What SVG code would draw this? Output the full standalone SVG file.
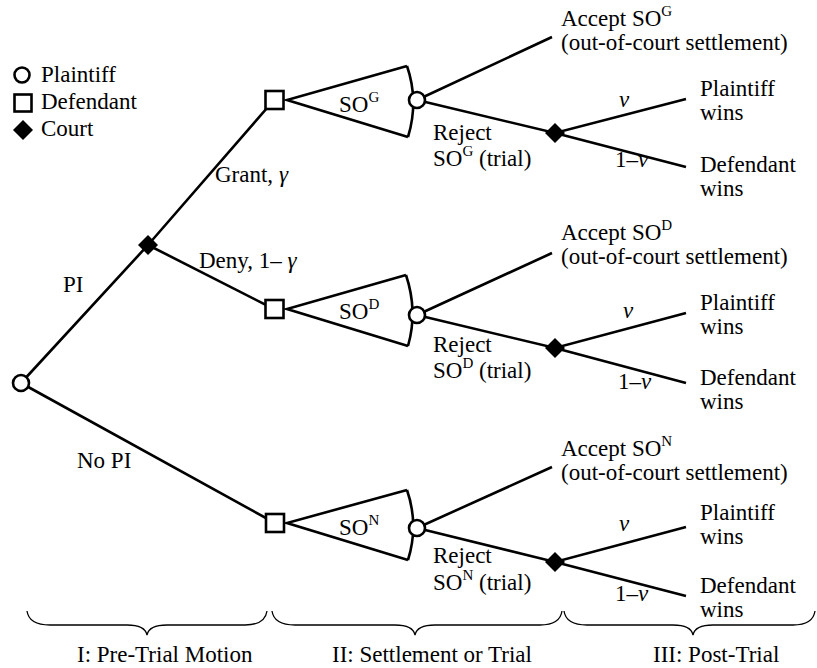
<svg xmlns="http://www.w3.org/2000/svg" width="817" height="668" viewBox="0 0 817 668">
<defs>
<path id="dia" d="M0,-10 L10,0 L0,10 L-10,0 Z" fill="#000"/>
</defs>
<rect width="817" height="668" fill="#fff"/>
<g id="connectors" stroke="#000" stroke-width="2.6" fill="none">
<path d="M21,383 L148,245 L274,100"/>
<path d="M148,245 L274,309"/>
<path d="M21,383 L275,523"/>
<path d="M417,100 L552,37 M417,100 L555,133 L686,99 M555,133 L686,167"/>
<path d="M417,315 L552,253 M417,315 L555,348 L686,313 M555,348 L686,383"/>
<path d="M417,528 L552,467 M417,528 L555,562 L686,527 M555,562 L686,596"/>
<path d="M407,66 L287,100 L408,137 M407,66 Q419,101 408,137"/>
<path d="M406,275 L287,309 L408,346 M406,275 Q418,311 408,346"/>
<path d="M407,490 L287,523 L408,560 M407,490 Q419,525 408,560"/>
</g>
<g id="nodes" fill="#fff" stroke="#000" stroke-width="2.6">
<g id="root"><circle cx="21" cy="383" r="8"/></g>
<g id="court-pi"><use href="#dia" x="148" y="245" stroke="none"/></g>
<g id="def-g"><rect x="265.5" y="91" width="18" height="18"/></g>
<g id="def-d"><rect x="265.5" y="300" width="18" height="18"/></g>
<g id="def-n"><rect x="266" y="514" width="18" height="18"/></g>
<g id="pl-g"><circle cx="417" cy="100" r="8"/></g>
<g id="pl-d"><circle cx="417" cy="315" r="8"/></g>
<g id="pl-n"><circle cx="417" cy="528" r="8"/></g>
<g id="court-g"><use href="#dia" x="555" y="133" stroke="none"/></g>
<g id="court-d"><use href="#dia" x="555" y="348" stroke="none"/></g>
<g id="court-n"><use href="#dia" x="555" y="562" stroke="none"/></g>
</g>
<g id="legend">
<circle cx="22" cy="75" r="7.5" fill="#fff" stroke="#000" stroke-width="2.6"/>
<rect x="14.5" y="94.5" width="17" height="17" fill="#fff" stroke="#000" stroke-width="2.6"/>
<use href="#dia" x="23" y="130"/>
<text x="41" y="82" font-family="Liberation Serif" font-size="23">Plaintiff</text>
<text x="41" y="109" font-family="Liberation Serif" font-size="23">Defendant</text>
<text x="41" y="136" font-family="Liberation Serif" font-size="23">Court</text>
</g>
<g id="labels">
<text x="63" y="292" font-family="Liberation Serif" font-size="23">PI</text>
<text x="77" y="468" font-family="Liberation Serif" font-size="23">No PI</text>
<text x="215" y="182" font-family="Liberation Serif" font-size="23">Grant, <tspan font-style="italic">γ</tspan></text>
<text x="199" y="268" font-family="Liberation Serif" font-size="23">Deny, 1– <tspan font-style="italic">γ</tspan></text>
<text x="339" y="112" font-family="Liberation Serif" font-size="23">SO<tspan font-size="15" dy="-10">G</tspan></text>
<text x="339" y="319" font-family="Liberation Serif" font-size="23">SO<tspan font-size="15" dy="-10">D</tspan></text>
<text x="339" y="535" font-family="Liberation Serif" font-size="23">SO<tspan font-size="15" dy="-10">N</tspan></text>
<text x="433" y="140" font-family="Liberation Serif" font-size="23">Reject</text>
<text x="433" y="166" font-family="Liberation Serif" font-size="23">SO<tspan font-size="15" dy="-10">G</tspan><tspan dy="10"> (trial)</tspan></text>
<text x="433" y="352" font-family="Liberation Serif" font-size="23">Reject</text>
<text x="433" y="378" font-family="Liberation Serif" font-size="23">SO<tspan font-size="15" dy="-10">D</tspan><tspan dy="10"> (trial)</tspan></text>
<text x="433" y="563" font-family="Liberation Serif" font-size="23">Reject</text>
<text x="433" y="590" font-family="Liberation Serif" font-size="23">SO<tspan font-size="15" dy="-10">N</tspan><tspan dy="10"> (trial)</tspan></text>
<text x="561" y="26" font-family="Liberation Serif" font-size="23">Accept SO<tspan font-size="15" dy="-10">G</tspan></text>
<text x="561" y="50" font-family="Liberation Serif" font-size="23">(out-of-court settlement)</text>
<text x="561" y="240" font-family="Liberation Serif" font-size="23">Accept SO<tspan font-size="15" dy="-10">D</tspan></text>
<text x="561" y="264" font-family="Liberation Serif" font-size="23">(out-of-court settlement)</text>
<text x="561" y="456" font-family="Liberation Serif" font-size="23">Accept SO<tspan font-size="15" dy="-10">N</tspan></text>
<text x="561" y="480" font-family="Liberation Serif" font-size="23">(out-of-court settlement)</text>
<text x="619" y="107" font-family="Liberation Serif" font-size="23" font-style="italic">v</text>
<text x="615" y="167" font-family="Liberation Serif" font-size="23">1–<tspan font-style="italic">v</tspan></text>
<text x="623" y="318" font-family="Liberation Serif" font-size="23" font-style="italic">v</text>
<text x="618" y="389" font-family="Liberation Serif" font-size="23">1–<tspan font-style="italic">v</tspan></text>
<text x="619" y="531" font-family="Liberation Serif" font-size="23" font-style="italic">v</text>
<text x="615" y="601" font-family="Liberation Serif" font-size="23">1–<tspan font-style="italic">v</tspan></text>
<text x="700" y="96" font-family="Liberation Serif" font-size="23">Plaintiff</text>
<text x="700" y="120" font-family="Liberation Serif" font-size="23">wins</text>
<text x="700" y="172" font-family="Liberation Serif" font-size="23">Defendant</text>
<text x="700" y="196" font-family="Liberation Serif" font-size="23">wins</text>
<text x="700" y="310" font-family="Liberation Serif" font-size="23">Plaintiff</text>
<text x="700" y="334" font-family="Liberation Serif" font-size="23">wins</text>
<text x="700" y="385" font-family="Liberation Serif" font-size="23">Defendant</text>
<text x="700" y="409" font-family="Liberation Serif" font-size="23">wins</text>
<text x="700" y="520" font-family="Liberation Serif" font-size="23">Plaintiff</text>
<text x="700" y="544" font-family="Liberation Serif" font-size="23">wins</text>
<text x="700" y="593" font-family="Liberation Serif" font-size="23">Defendant</text>
<text x="700" y="617" font-family="Liberation Serif" font-size="23">wins</text>
</g>
<g id="braces" stroke="#000" stroke-width="1.3" fill="none">
<path d="M27,611 Q29,625 50,625 L127,625 Q145,625 147,635 Q149,625 167,625 L245,625 Q265,625 267,611"/>
<path d="M272,611 Q274,625 295,625 L395,625 Q413,625 415,635 Q417,625 435,625 L540,625 Q560,625 562,611"/>
<path d="M564,611 Q566,625 587,625 L673,625 Q691,625 693,635 Q695,625 713,625 L793,625 Q813,625 815,611"/>
</g>
<g id="phases">
<text x="77" y="662" font-family="Liberation Serif" font-size="23">I: Pre-Trial Motion</text>
<text x="332" y="662" font-family="Liberation Serif" font-size="23">II: Settlement or Trial</text>
<text x="653" y="662" font-family="Liberation Serif" font-size="23">III: Post-Trial</text>
</g>
</svg>
